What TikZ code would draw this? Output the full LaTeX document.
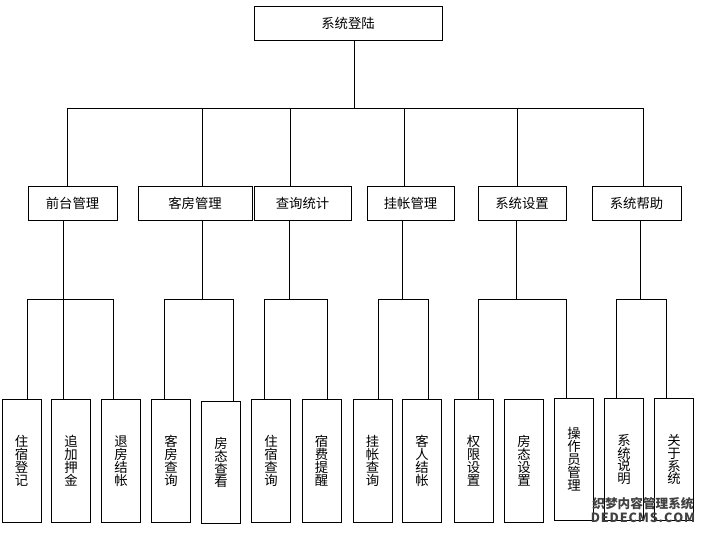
\documentclass[tikz,border=0pt]{standalone}
\usepackage{fontspec}
\setmainfont{Noto Sans CJK SC}

\begin{document}
\begin{tikzpicture}[x=0.025cm,y=-0.025cm,line width=0.7pt,
  box/.style={draw,inner sep=0pt,minimum height=0.85cm,minimum width=#1*0.025cm,
    font=\fontsize{9.5}{11}\selectfont},
  leaf/.style={draw,inner sep=0pt,minimum height=3.05cm,minimum width=0.975cm,
    align=center,font=\fontsize{9.5}{9.2}\selectfont\setlength{\lineskiplimit}{-5pt}}]

\useasboundingbox (0,0) rectangle (702,532);

% === Top: login ===
\node[box=188] (login) at (348,23.5) {系统登陆};

% === Second row: modules ===
\node[box=89]  (front)   at (72.5,203)  {前台管理};
\node[box=114] (room)    at (195,203)   {客房管理};
\node[box=97]  (query)   at (302.5,203) {查询统计};
\node[box=87]  (credit)  at (410.5,203) {挂帐管理};
\node[box=88]  (setting) at (522,203)   {系统设置};
\node[box=89]  (help)    at (636.5,203) {系统帮助};

% === Bottom row: functions (vertical text) ===
\node[leaf] (checkin)   at (21.5,461)  {住\\宿\\登\\记};
\node[leaf] (deposit)   at (71,461)    {追\\加\\押\\金};
\node[leaf] (checkout)  at (121,461)   {退\\房\\结\\帐};
\node[leaf] (roomq)     at (171,461)   {客\\房\\查\\询};
\node[leaf] (status)    at (221,462.5) {房\\态\\查\\看};
\node[leaf] (stayq)     at (271,461)   {住\\宿\\查\\询};
\node[leaf] (remind)    at (321.5,461) {宿\\费\\提\\醒};
\node[leaf] (creditq)   at (372.5,461) {挂\\帐\\查\\询};
\node[leaf] (settle)    at (422,461)   {客\\人\\结\\帐};
\node[leaf] (perm)      at (473.5,461) {权\\限\\设\\置};
\node[leaf] (statusset) at (524,461)   {房\\态\\设\\置};
\node[leaf] (oper)      at (574,459.5) {操\\作\\员\\管\\理};
\node[leaf] (intro)     at (624,459.5) {系\\统\\说\\明};
\node[leaf] (about)     at (674,459.5) {关\\于\\系\\统};

% === Trunk from login to modules ===
\coordinate (trunk) at (354,108);
\draw (login.south -| trunk) -- (trunk);
\foreach \x/\n in {67/front,202/room,290/query,404/credit,517/setting,643/help} {
  \coordinate (t\n) at (\x,108);
  \draw (t\n) -- (t\n |- \n.north);
}
\draw (tfront) -- (thelp);

% === Drops from modules to group bars ===
\foreach \x/\n in {63/front,202/room,289/query,402/credit,516/setting,640/help} {
  \coordinate (p\n) at (\x,299);
  \draw (\n.south -| p\n) -- (p\n);
}

% === Group bars and leaf connectors ===
\foreach \x/\n in {27/checkin,63/deposit,113/checkout,164/roomq,233/status,264/stayq,
  327/remind,378/creditq,428/settle,478/perm,566/oper,616/intro,666/about} {
  \coordinate (c\n) at (\x,299);
  \draw (c\n) -- (c\n |- \n.north);
}
\draw (ccheckin) -- (ccheckout);
\draw (croomq) -- (cstatus);
\draw (cstayq) -- (cremind);
\draw (ccreditq) -- (csettle);
\draw (cperm) -- (coper);
\draw (cintro) -- (cabout);

% watermark
\node[font=\fontsize{9}{10}\selectfont\bfseries,text=black!75,align=center,inner sep=0pt]
  (wm) at (643,510) {织梦内容管理系统\\D\kern.6ptE\kern.6ptD\kern.6ptE\kern.6ptC\kern.6ptM\kern.6ptS\kern.6pt.\kern.6ptC\kern.6ptO\kern.6ptM};

\end{tikzpicture}
\end{document}
